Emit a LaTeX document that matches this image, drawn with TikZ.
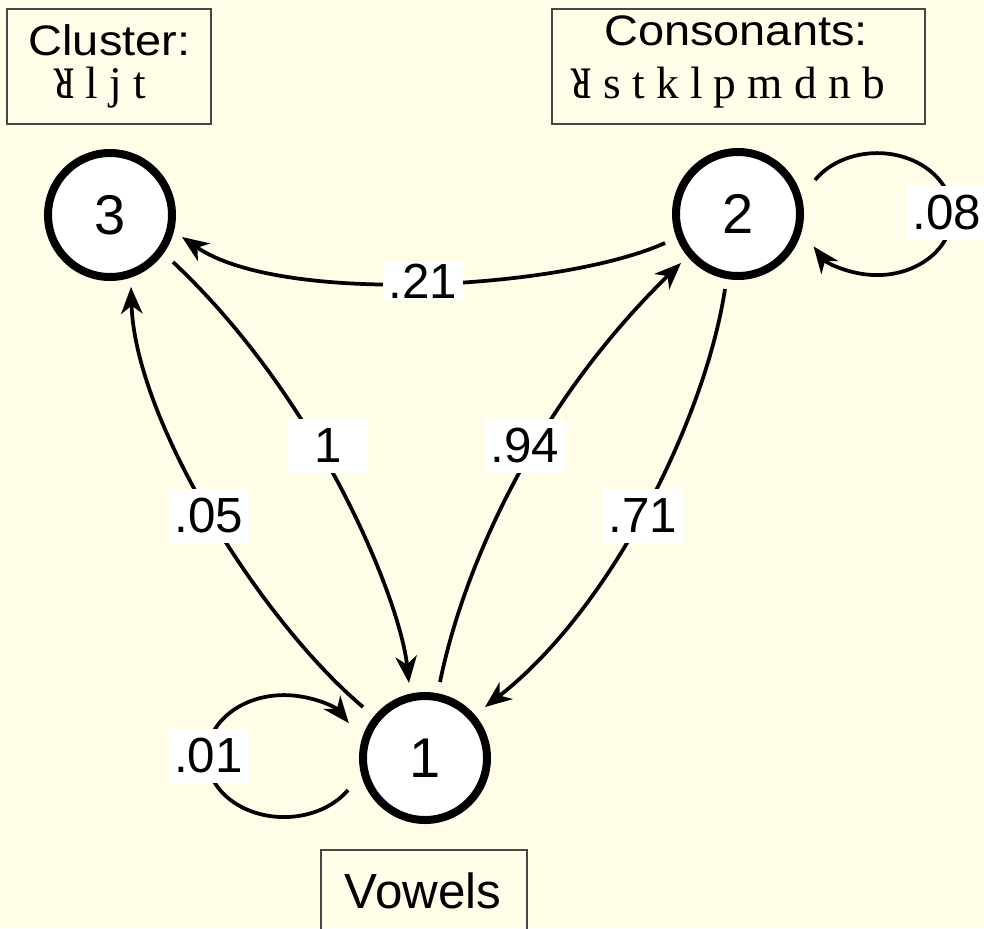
\documentclass[tikz,border=0pt]{standalone}
\usepackage{fontspec}
\setmainfont{Liberation Sans}
\newfontfamily\ipafont{Liberation Serif}
\newfontfamily\boxfont[FakeStretch=1.1]{Liberation Sans}
\usetikzlibrary{arrows.meta,calc}
\definecolor{bg}{RGB}{255,253,232}
\definecolor{boxline}{RGB}{70,70,70}
\newcommand{\ipaR}{\scalebox{-0.95}[1.42]{ʁ}}
\begin{document}
\begin{tikzpicture}[x=0.75pt,y=-0.75pt,
  state/.style={circle,draw,line width=6pt,fill=white,minimum size=93pt,inner sep=0pt,
    font=\fontsize{42pt}{48pt}\selectfont},
  conn/.style={line width=2.8pt,-{Stealth[length=20pt,width=16pt,inset=6pt]}},
  prob/.style={fill=white,inner sep=0pt,minimum width=60pt,minimum height=41pt,
    font=\fontsize{37pt}{44pt}\selectfont},
  legendbox/.style={draw=boxline,line width=1.1pt},
  headtext/.style={anchor=base,inner sep=0pt,font={\boxfont\fontsize{32pt}{38pt}\selectfont}},
  ipatext/.style={anchor=base,inner sep=0pt,font={\ipafont\fontsize{34pt}{40pt}\selectfont}},
  voweltext/.style={anchor=base,inner sep=0pt,font=\fontsize{37pt}{44pt}\selectfont}
]
\fill[bg] (0,0) rectangle (984,928);
\useasboundingbox (0,0) rectangle (984,928);

% legend boxes
\draw[legendbox] (7,9) rectangle (211,124);
\draw[legendbox] (552,9) rectangle (925,124);
\draw[legendbox] (321,935) -- (321,850) -- (527,850) -- (527,935);

\node[headtext] (clhead) at (109.5,55) {Cluster:};
\node[ipatext] (clipa) at (100,98) {\ipaR{} l j t};
\node[headtext] (cohead) at (736,45) {Consonants:};
\node[ipatext] (coipa) at (728,98) {\ipaR{} s t k l p m d n b};
\node[voweltext] (vow) at (423,908) {Vowels};

% states
\node[state] (n3) at (110,215) {3};
\node[state] (n2) at (738,214) {2};
\node[state] (n1) at (425,758) {1};

% transitions
\draw[conn] ($(n2)+(-73,29)$) .. controls (560,290) and (280,305) .. ($(n3)+(72,22)$);
\draw[conn] ($(n3)+(63,47)$) .. controls (320,400) and (400,600) .. ($(n1)+(-16,-75)$);
\draw[conn] ($(n1)+(-62,-51)$) .. controls (260,620) and (135,420) .. ($(n3)+(21,72)$);
\draw[conn] ($(n1)+(15,-76)$) .. controls (465,560) and (540,400) .. ($(n2)+(-57,49)$);
\draw[conn] ($(n2)+(-13,75)$) .. controls (705,420) and (610,610) .. ($(n1)+(60,-51)$);
\draw[conn] ($(n2)+(77,-34)$) arc[start angle=-146,end angle=148,x radius=75,y radius=61];
\draw[conn] ($(n1)+(-77,32)$) arc[start angle=33.8,end angle=327.3,x radius=77,y radius=61];

% probabilities
\node[prob,minimum height=28.5pt] (p21) at (423,281) {.21};
\node[prob] (p1) at (328,446) {1};
\node[prob] (p94) at (525,446) {.94};
\node[prob] (p05) at (209,516) {.05};
\node[prob] (p71) at (643,516) {.71};
\node[prob] (p08) at (947,213) {.08};
\node[prob] (p01) at (208.5,756) {.01};
\end{tikzpicture}
\end{document}
